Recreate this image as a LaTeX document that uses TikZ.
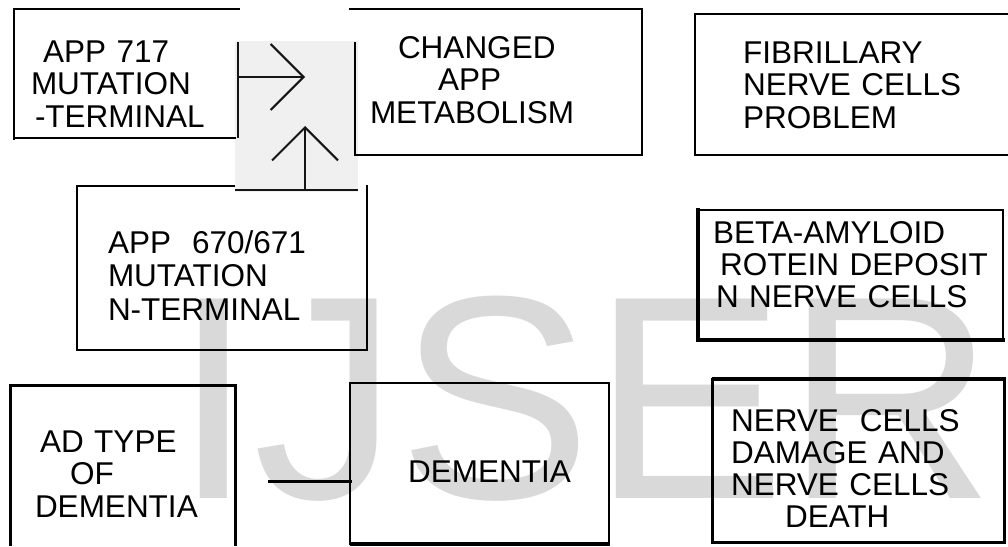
\documentclass[tikz,border=0pt]{standalone}
\usepackage{fontspec}
\setmainfont{Liberation Sans}
\usetikzlibrary{arrows.meta}
\definecolor{wmgray}{HTML}{D9D9D9}
\definecolor{scanbg}{HTML}{F0F0F0}
\definecolor{ink}{HTML}{151515}
\begin{document}
\begin{tikzpicture}[x=1pt,y=-1pt,
  boxline/.style={line width=2.5pt, black},
  thinline/.style={line width=2pt, black},
  thickline/.style={line width=3.5pt, black},
  boxtext/.style={inner sep=0pt, outer sep=0pt, align=left, anchor=base west,
     font=\fontsize{31.5}{32.5}\selectfont},
  wmtext/.style={inner sep=0pt, outer sep=0pt, anchor=base west, text=wmgray,
     font=\fontsize{290}{300}\selectfont},
  scanline/.style={line width=2pt, ink},
  chev/.style={scanline, -{Straight Barb[length=33pt, width=66pt, line width=2pt]}},
]
\useasboundingbox (0,0) rectangle (1008,546);

% watermark
\node[wmtext] (wm) at (173,498) {IJSER};

% scanned patch with the arrows
\fill[scanbg] (235,41) rectangle (358,192);
\draw[scanline] (238,42) -- (238,138);
\draw[scanline] (235,190) -- (358,190);
\coordinate (r0) at (238,77);
\coordinate (r1) at (305,77);
\coordinate (u0) at (305,190);
\coordinate (u1) at (305,126);
\draw[chev] (r0) -- (r1);
\draw[chev] (u0) -- (u1);

% box 1: APP 717
\draw[boxline] (240,9) -- (14,9) -- (14,140);
\draw[boxline] (14,138) -- (236,138);
\node[boxtext, text width=195pt] (t1) at (31,62)
  {\hspace*{12pt}APP 717\\MUTATION\\\hspace*{4pt}-TERMINAL};

% box 2: CHANGED APP METABOLISM
\draw[thinline] (349,9) -- (642,9) -- (642,155) -- (355,155) -- (355,42);
\node[boxtext, text width=225pt] (t2) at (370,58)
  {\hspace*{28pt}CHANGED\\\hspace*{68pt}APP\\METABOLISM};

% box 3: FIBRILLARY
\draw[boxline] (1008,14) -- (695,14) -- (695,155) -- (1008,155);
\node[boxtext, text width=240pt] (t3) at (743,63)
  {FIBRILLARY\\NERVE CELLS\\PROBLEM};

% box 4: APP 670/671
\draw[boxline] (235,186) -- (77,186) -- (77,350) -- (367,350) -- (367,185);
\node[boxtext, text width=235pt, font=\fontsize{31.5}{33.5}\selectfont] (t4) at (108,253)
  {APP\ \ 670/671\\MUTATION\\N-TERMINAL};

% box 5: BETA-AMYLOID
\draw[line width=4pt] (698,208) -- (698,342);
\draw[thinline] (698,210) -- (1003,210) -- (1003,340);
\draw[thickline] (698,340) -- (1005,340);
\node[boxtext, text width=282pt, font=\fontsize{31.5}{32}\selectfont] (t5) at (713,243)
  {BETA-AMYLOID\\\hspace*{7pt}ROTEIN DEPOSIT\\\hspace*{3pt}N NERVE CELLS};

% box 6: AD TYPE OF DEMENTIA
\draw[line width=3pt] (10,546) -- (10,385) -- (235,385) -- (235,546);
\node[boxtext, text width=190pt] (t6) at (35,452)
  {\hspace*{5pt}AD TYPE\\\hspace*{35pt}OF\\DEMENTIA};

% connector between box 6 and box 7
\coordinate (c0) at (268,481);
\coordinate (c1) at (352,481);
\draw[line width=3pt] (c0) -- (c1);

% box 7: DEMENTIA
\draw[thinline] (350,383) rectangle (609,544);
\draw[thickline] (350,544) -- (610,544);
\node[boxtext, text width=190pt] (t7) at (408,482) {DEMENTIA};

% box 8: NERVE CELLS DAMAGE
\draw[line width=3pt] (712,379) rectangle (1004,542);
\draw[line width=4pt] (712,379) -- (1006,379);
\node[boxtext, text width=265pt, font=\fontsize{31.5}{32}\selectfont] (t8) at (731,431)
  {NERVE\ \ CELLS\\DAMAGE AND\\NERVE CELLS\\\hspace*{54pt}DEATH};
\end{tikzpicture}
\end{document}
